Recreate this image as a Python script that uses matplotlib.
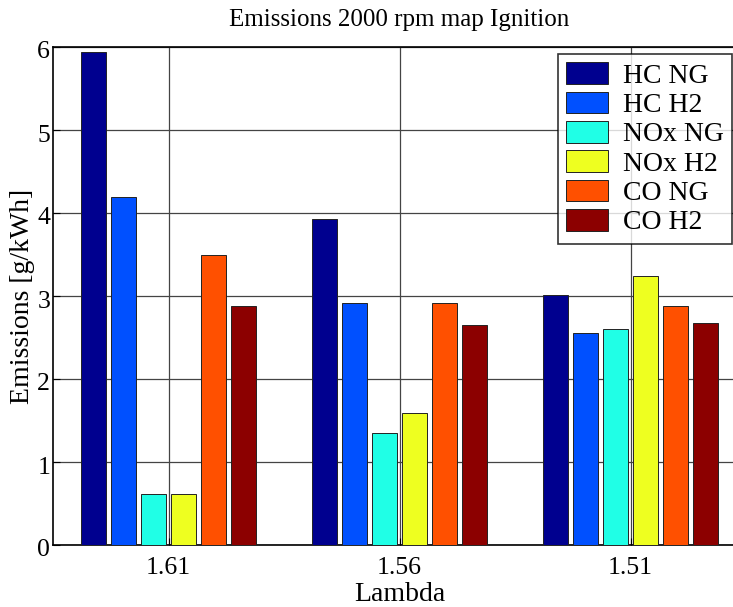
import matplotlib
matplotlib.use("Agg")
import matplotlib.pyplot as plt
import matplotlib.transforms as mtransforms
import numpy as np

categories = ["1.61", "1.56", "1.51"]
series_names = ["HC NG", "HC H2", "NOx NG", "NOx H2", "CO NG", "CO H2"]
hc_ng = [5.94, 3.93, 3.01]
hc_h2 = [4.19, 2.92, 2.56]
nox_ng = [0.62, 1.35, 2.60]
nox_h2 = [0.61, 1.59, 3.24]
co_ng = [3.49, 2.91, 2.88]
co_h2 = [2.88, 2.65, 2.67]
series = [hc_ng, hc_h2, nox_ng, nox_h2, co_ng, co_h2]
colors = ["#00008F", "#0050FF", "#20FFE6", "#EEFF20", "#FF5000", "#8C0000"]

plt.rcParams['font.family'] = ['Liberation Serif', 'DejaVu Serif']
fig = plt.figure(figsize=(7.33, 6.07), dpi=100)
W, H = 733, 607
ax = fig.add_axes([53 / W, 1 - 545 / H, (746 - 53) / W, (545 - 47) / H])

x = np.arange(1, len(categories) + 1)
step = 0.13
width = 0.105
for i, (vals, name, c) in enumerate(zip(series, series_names, colors)):
    ax.bar(x + (i - 2.5) * step, vals, width, color=c, edgecolor='#222222',
           linewidth=0.7, label=name, zorder=3)

ax.set_xlim(0.5, 3.5)
ax.set_ylim(0, 6)
ax.set_xticks(x)
ax.set_xticklabels(categories)
ax.set_yticks(range(0, 7))
ax.grid(True, color='#444444', linewidth=0.9, zorder=0)
ax.set_axisbelow(True)
ax.tick_params(axis='x', direction='in', labelsize=18.5, length=5, pad=9)
ax.tick_params(axis='y', direction='in', labelsize=18.5, length=5, pad=2)
shift = mtransforms.ScaledTranslation(0, -3 / 100, fig.dpi_scale_trans)
for lab in ax.get_yticklabels():
    lab.set_transform(lab.get_transform() + shift)
for s in ax.spines.values():
    s.set_linewidth(1.2)
ax.set_title("Emissions 2000 rpm map Ignition", fontsize=18, pad=15)
ax.set_xlabel("Lambda", fontsize=20, labelpad=2)
ax.set_ylabel("Emissions [g/kWh]", fontsize=20, labelpad=2)

leg = ax.legend(loc='upper left', bbox_to_anchor=((558 - 53) / (746 - 53), 1 - (54 - 47) / (545 - 47)),
                fontsize=20, frameon=True, fancybox=False, borderaxespad=0,
                handlelength=1.5, handleheight=0.83, labelspacing=0.1, handletextpad=0.55,
                borderpad=0.3)
leg.get_frame().set_edgecolor('black')
leg.get_frame().set_linewidth(1.2)

fig.savefig("out.png", dpi=100)
